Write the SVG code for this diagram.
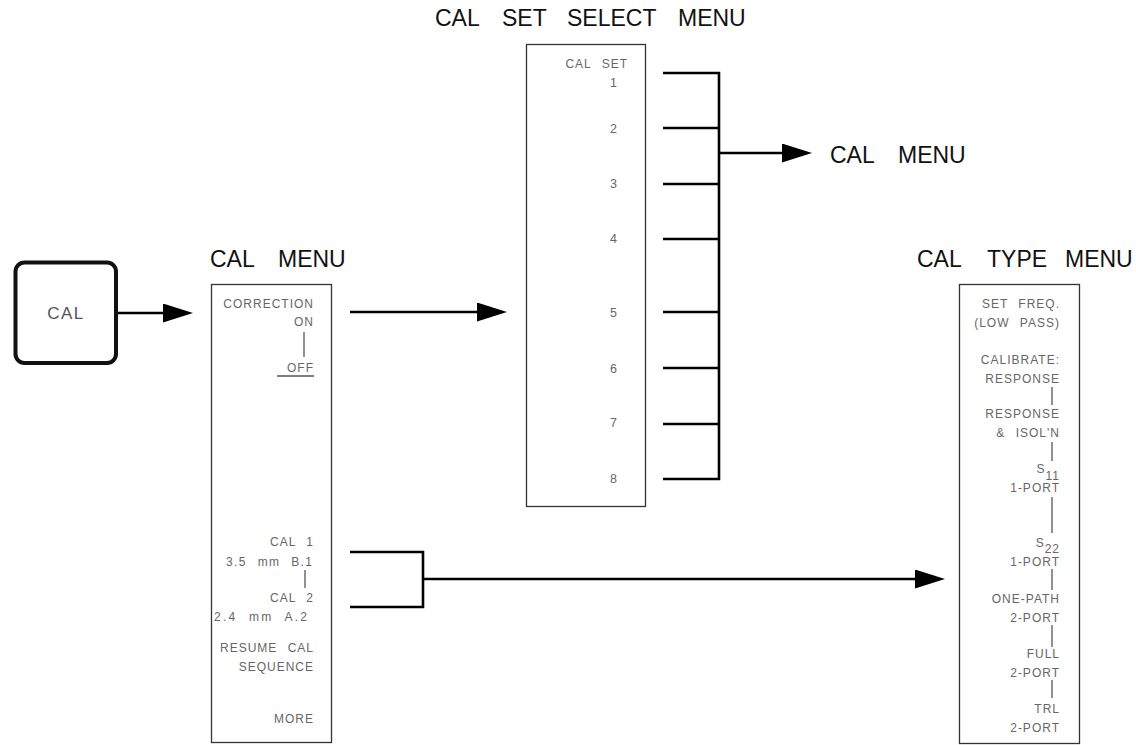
<svg xmlns="http://www.w3.org/2000/svg" width="1136" height="745" viewBox="0 0 1136 745">
<style>
  .title { font-family: "Liberation Sans", Arial, sans-serif; font-size: 23px; fill: #111; }
  .item { font-family: "Liberation Sans", Arial, sans-serif; font-size: 12px; fill: #666; text-anchor: end; letter-spacing: 1px; word-spacing: 6px; }
  .num { font-family: "Liberation Sans", Arial, sans-serif; font-size: 12.5px; fill: #666; text-anchor: end; }
  .menu { fill: #fff; stroke: #333; stroke-width: 1.3; }
  .bar { stroke: #555; stroke-width: 1.3; fill: none; }
  .conn { stroke: #000; stroke-width: 2.6; fill: none; }
</style>
<defs>
  <marker id="arrow" viewBox="0 0 30 19" refX="1" refY="9.5" markerWidth="30" markerHeight="19" markerUnits="userSpaceOnUse" orient="auto">
    <path d="M0,0 L30,9.5 L0,19 Z" fill="#000"/>
  </marker>
</defs>
<rect width="1136" height="745" fill="#fff"/>

<g id="cal-key">
  <rect x="15.5" y="262.5" width="100.5" height="100.5" rx="9" fill="#fff" stroke="#111" stroke-width="4"/>
  <text x="66" y="319" text-anchor="middle" style="font-family:'Liberation Sans',Arial,sans-serif;font-size:17px;fill:#555;letter-spacing:1.5px">CAL</text>
</g>

<g id="cal-menu">
  <text class="title" y="267"><tspan x="210">CAL</tspan> <tspan x="278">MENU</tspan></text>
  <rect class="menu" x="211.5" y="284.5" width="120" height="458"/>
  <text class="item" x="314" y="308">CORRECTION</text>
  <text class="item" x="314" y="326">ON</text>
  <line class="bar" x1="304" y1="332" x2="304" y2="357"/>
  <text class="item" x="314" y="372">OFF</text>
  <line class="bar" x1="277" y1="376" x2="314" y2="376"/>
  <text class="item" x="314" y="546">CAL 1</text>
  <text class="item" x="313" y="566" textLength="87">3.5 mm B.1</text>
  <line class="bar" x1="305" y1="570" x2="305" y2="588"/>
  <text class="item" x="314" y="602">CAL 2</text>
  <text class="item" x="308" y="621" textLength="94">2.4 mm A.2</text>
  <text class="item" x="314" y="652">RESUME CAL</text>
  <text class="item" x="314" y="671">SEQUENCE</text>
  <text class="item" x="314" y="723">MORE</text>
</g>

<g id="cal-set-select-menu">
  <text class="title" y="26"><tspan x="435">CAL</tspan> <tspan x="502">SET</tspan> <tspan x="567">SELECT</tspan> <tspan x="678">MENU</tspan></text>
  <rect class="menu" x="526.5" y="44.5" width="119" height="462"/>
  <text class="item" x="628" y="68">CAL SET</text>
  <text class="num" x="617" y="87">1</text>
  <text class="num" x="617" y="133">2</text>
  <text class="num" x="617" y="188">3</text>
  <text class="num" x="617" y="243">4</text>
  <text class="num" x="617" y="317">5</text>
  <text class="num" x="617" y="373">6</text>
  <text class="num" x="617" y="427">7</text>
  <text class="num" x="617" y="483">8</text>
</g>

<g id="cal-menu-ref">
  <text class="title" y="163"><tspan x="830">CAL</tspan> <tspan x="898">MENU</tspan></text>
</g>

<g id="cal-type-menu">
  <text class="title" y="267"><tspan x="917">CAL</tspan> <tspan x="987">TYPE</tspan> <tspan x="1065">MENU</tspan></text>
  <rect class="menu" x="959.5" y="284.5" width="120" height="459"/>
  <text class="item" x="1060" y="308">SET FREQ.</text>
  <text class="item" x="1060" y="327">(LOW PASS)</text>
  <text class="item" x="1060" y="364">CALIBRATE:</text>
  <text class="item" x="1060" y="383">RESPONSE</text>
  <line class="bar" x1="1052" y1="387" x2="1052" y2="405"/>
  <text class="item" x="1060" y="418">RESPONSE</text>
  <text class="item" x="1060" y="437">&amp; ISOL'N</text>
  <line class="bar" x1="1052" y1="442" x2="1052" y2="461"/>
  <text class="item" x="1060" y="473">S<tspan dy="7">11</tspan></text>
  <text class="item" x="1060" y="492">1-PORT</text>
  <line class="bar" x1="1052" y1="497" x2="1052" y2="533"/>
  <text class="item" x="1060" y="547">S<tspan dy="6">22</tspan></text>
  <text class="item" x="1060" y="566">1-PORT</text>
  <line class="bar" x1="1052" y1="569" x2="1052" y2="590"/>
  <text class="item" x="1060" y="603">ONE-PATH</text>
  <text class="item" x="1060" y="622">2-PORT</text>
  <line class="bar" x1="1052" y1="625" x2="1052" y2="647"/>
  <text class="item" x="1060" y="658">FULL</text>
  <text class="item" x="1060" y="677">2-PORT</text>
  <line class="bar" x1="1052" y1="680" x2="1052" y2="698"/>
  <text class="item" x="1060" y="713">TRL</text>
  <text class="item" x="1060" y="732">2-PORT</text>
</g>

<g id="connectors">
  <line class="conn" x1="118" y1="313" x2="164" y2="313" marker-end="url(#arrow)"/>
  <line class="conn" x1="350" y1="312" x2="478" y2="312" marker-end="url(#arrow)"/>
  <polyline class="conn" points="663,73 719,73 719,479 663,479"/>
  <line class="conn" x1="663" y1="128" x2="719" y2="128"/>
  <line class="conn" x1="663" y1="184" x2="719" y2="184"/>
  <line class="conn" x1="663" y1="239" x2="719" y2="239"/>
  <line class="conn" x1="663" y1="312" x2="719" y2="312"/>
  <line class="conn" x1="663" y1="368" x2="719" y2="368"/>
  <line class="conn" x1="663" y1="424" x2="719" y2="424"/>
  <line class="conn" x1="719" y1="153" x2="783" y2="153" marker-end="url(#arrow)"/>
  <polyline class="conn" points="350,552 423,552 423,607 350,607"/>
  <line class="conn" x1="423" y1="579" x2="916" y2="579" marker-end="url(#arrow)"/>
</g>
</svg>
